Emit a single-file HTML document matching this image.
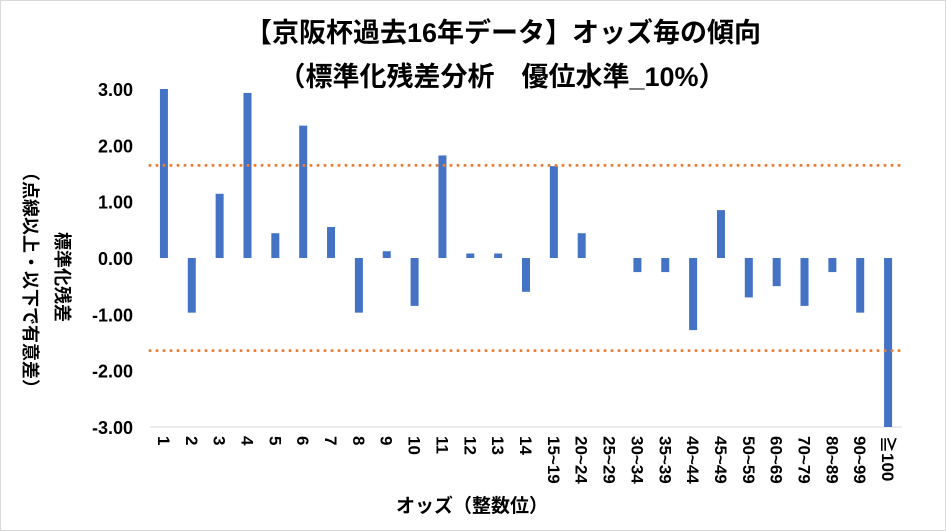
<!DOCTYPE html>
<html><head><meta charset="utf-8"><style>
body{margin:0;background:#fff}
svg{display:block;font-family:"Liberation Sans","Noto Sans CJK JP",sans-serif}
</style></head><body>
<svg id="chart" width="946" height="531" viewBox="0 0 946 531">
<rect x="0.5" y="0.5" width="945" height="530" fill="#fff" stroke="#d9d9d9"/>
<text x="503" y="42" text-anchor="middle" font-size="27" font-weight="bold">【京阪杯過去16年データ】オッズ毎の傾向</text>
<text x="502" y="86" text-anchor="middle" font-size="27" font-weight="bold">（標準化残差分析　優位水準_10%）</text>
<g id="yticks"></g><g id="bars"></g><g id="xlabels"></g><g id="refs"></g>
<text transform="translate(56,277) rotate(90)" text-anchor="middle" font-size="18" font-weight="bold">標準化残差</text>
<text transform="translate(24,280) rotate(90)" text-anchor="middle" font-size="18" font-weight="bold">（点線以上・以下で有意差）</text>
<text x="472" y="512" text-anchor="middle" font-size="19" font-weight="bold">オッズ（整数位）</text>
</svg>
<script>
const categories=["1","2","3","4","5","6","7","8","9","10","11","12","13","14","15~19","20~24","25~29","30~34","35~39","40~44","45~49","50~59","60~69","70~79","80~89","90~99","≧100"];
const values=[3.0,-0.97,1.14,2.93,0.44,2.35,0.55,-0.97,0.12,-0.85,1.82,0.08,0.08,-0.6,1.63,0.44,0,-0.25,-0.25,-1.28,0.85,-0.7,-0.5,-0.85,-0.25,-0.97,-3.0];
const yTicks=[3,2,1,0,-1,-2,-3];
const refLines=[1.645,-1.645];
const NS="http://www.w3.org/2000/svg";
const x0=150,x1=902,y0=89,y1=427;
const y=v=>y0+(3-v)*(y1-y0)/6;
const step=(x1-x0)/categories.length;
const x=i=>x0+step*(i+0.5);
function mk(t,a,p){const e=document.createElementNS(NS,t);for(const k in a)e.setAttribute(k,a[k]);p.appendChild(e);return e;}
const yt=document.getElementById('yticks');
yTicks.forEach(v=>{
 mk('line',{x1:x0,x2:x1,y1:y(v),y2:y(v),stroke:v===-3?'#d9d9d9':'none'},yt);
 const t=mk('text',{x:133,y:y(v)+7,'text-anchor':'end','font-size':18,'font-weight':'bold'},yt);
 t.textContent=v.toFixed(2);
 
 
});
const bg=document.getElementById('bars');
values.forEach((v,i)=>{
 const r=mk('rect',{x:x(i)-4,width:8,y:Math.min(y(v),y(0)),height:Math.abs(y(v)-y(0)),fill:'#4472c4'},bg);
 
 
});
const xl=document.getElementById('xlabels');
categories.forEach((c,i)=>{
 const t=mk('text',{transform:`translate(${x(i)-6},436) rotate(90)`,'font-size':17,'font-weight':'bold'},xl);
 t.textContent=c;
 
 
});
const rl=document.getElementById('refs');
refLines.forEach(v=>{
 const l=mk('line',{x1:x0,x2:x1,y1:y(v),y2:y(v),stroke:'#ed7d31','stroke-width':3,'stroke-dasharray':'0 7','stroke-linecap':'round'},rl);
 
 
});
</script>
</body></html>
